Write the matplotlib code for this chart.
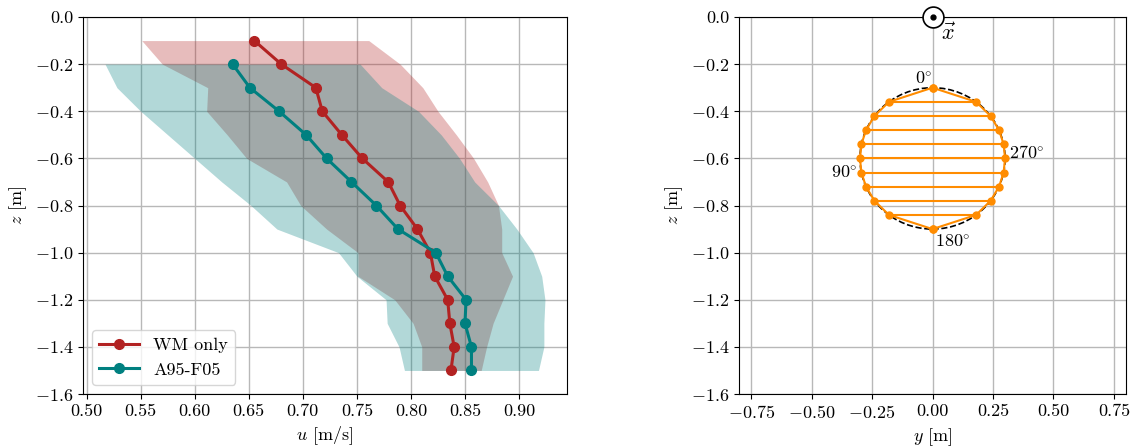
import matplotlib
matplotlib.use('Agg')
import matplotlib.pyplot as plt
from matplotlib.patches import Circle

plt.rcParams['font.family'] = 'serif'
plt.rcParams['font.serif'] = ['cmr10', 'DejaVu Serif']
plt.rcParams['mathtext.fontset'] = 'cm'
plt.rcParams['axes.formatter.use_mathtext'] = True
plt.rcParams['font.size'] = 13
plt.rcParams['axes.unicode_minus'] = True

# Perfiles de velocidad (WM only)
z_wm = [-0.1, -0.2, -0.3, -0.4, -0.5, -0.6, -0.7, -0.8, -0.9, -1.0, -1.1, -1.2, -1.3, -1.4, -1.5]
u_wm = [0.655, 0.680, 0.712, 0.718, 0.736, 0.755, 0.779, 0.790, 0.806, 0.818, 0.822, 0.834, 0.836, 0.840, 0.837]
u_wm_low = [0.551, 0.570, 0.612, 0.611, 0.630, 0.648, 0.685, 0.698, 0.722, 0.751, 0.751, 0.785, 0.802, 0.810, 0.810]
u_wm_high = [0.761, 0.790, 0.811, 0.825, 0.842, 0.858, 0.871, 0.881, 0.884, 0.884, 0.894, 0.885, 0.876, 0.870, 0.865]

# Perfiles de velocidad (A95-F05)
z_a95 = [-0.2, -0.3, -0.4, -0.5, -0.6, -0.7, -0.8, -0.9, -1.0, -1.1, -1.2, -1.3, -1.4, -1.5]
u_a95 = [0.635, 0.651, 0.678, 0.703, 0.722, 0.745, 0.768, 0.788, 0.823, 0.834, 0.851, 0.850, 0.856, 0.856]
u_a95_low = [0.517, 0.528, 0.550, 0.575, 0.600, 0.625, 0.652, 0.676, 0.733, 0.750, 0.777, 0.778, 0.789, 0.794]
u_a95_high = [0.753, 0.773, 0.807, 0.828, 0.845, 0.859, 0.881, 0.898, 0.913, 0.921, 0.924, 0.923, 0.923, 0.918]

# Puntos de medida en la seccion circular
z_sec = [-0.30, -0.36, -0.42, -0.48, -0.54, -0.60, -0.66, -0.72, -0.78, -0.84, -0.90]
y_half = [0.0, 0.18, 0.24, 0.275, 0.294, 0.30, 0.294, 0.275, 0.24, 0.18, 0.0]
centro = (0.0, -0.6)
radio = 0.3

red = '#b22222'
teal = '#008080'
orange = '#ff8c00'

fig = plt.figure(figsize=(11.33, 4.48), dpi=100)
ax1 = fig.add_axes([0.0733, 0.1205, 0.4271, 0.8415])
ax2 = fig.add_axes([0.6523, 0.1205, 0.3415, 0.8415])

# Grafica izquierda
ax1.fill_betweenx(z_wm, u_wm_low, u_wm_high, color=red, alpha=0.3, linewidth=0)
ax1.fill_betweenx(z_a95, u_a95_low, u_a95_high, color=teal, alpha=0.3, linewidth=0)
ax1.plot(u_wm, z_wm, color=red, marker='o', markersize=7, linewidth=2.2, label='WM only')
ax1.plot(u_a95, z_a95, color=teal, marker='o', markersize=7, linewidth=2.2, label='A95-F05')
ax1.set_ylim(-1.6, 0.0)
ax1.set_xticks([0.50, 0.55, 0.60, 0.65, 0.70, 0.75, 0.80, 0.85, 0.90])
ax1.set_yticks([0.0, -0.2, -0.4, -0.6, -0.8, -1.0, -1.2, -1.4, -1.6])
ax1.set_xticklabels(['0.50', '0.55', '0.60', '0.65', '0.70', '0.75', '0.80', '0.85', '0.90'])
ax1.set_yticklabels(['0.0', '$-$0.2', '$-$0.4', '$-$0.6', '$-$0.8', '$-$1.0', '$-$1.2', '$-$1.4', '$-$1.6'])
ax1.set_xlabel('$u$ [m/s]')
ax1.set_ylabel('$z$ [m]')
ax1.grid(True, color='#b8b8b8', linewidth=1)
ax1.set_axisbelow(True)
ax1.legend(loc='lower left', fontsize=13, handlelength=2.2)

# Grafica derecha
ax2.add_patch(Circle(centro, radio, fill=False, linestyle='--', color='black', linewidth=1.2, zorder=2))
y_left = [-v for v in y_half]
y_outline = y_half + y_left[::-1]
z_outline = z_sec + z_sec[::-1]
ax2.plot(y_outline, z_outline, color=orange, marker='o', markersize=5, linewidth=1.5, zorder=3)
for yl, yr, zz in zip(y_left[1:-1], y_half[1:-1], z_sec[1:-1]):
    ax2.plot([yl, yr], [zz, zz], color=orange, linewidth=1.5, zorder=3)
ax2.text(-0.038, -0.262, r'0$^{\circ}$', ha='center', va='center', fontsize=13)
ax2.text(-0.31, -0.662, r'90$^{\circ}$', ha='right', va='center', fontsize=13)
ax2.text(0.315, -0.575, r'270$^{\circ}$', ha='left', va='center', fontsize=13)
ax2.text(0.01, -0.955, r'180$^{\circ}$', ha='left', va='center', fontsize=13)
ax2.plot([0.0], [0.0], marker='o', markersize=15, markerfacecolor='white', markeredgecolor='black',
         markeredgewidth=1.2, clip_on=False, zorder=5)
ax2.plot([0.0], [0.0], marker='o', markersize=3.5, color='black', clip_on=False, zorder=6)
ax2.text(0.065, -0.07, r'$\vec{x}$', ha='center', va='center', fontsize=16)
ax2.set_xlim(-0.8, 0.8)
ax2.set_ylim(-1.6, 0.0)
ax2.set_xticks([-0.75, -0.50, -0.25, 0.0, 0.25, 0.50, 0.75])
ax2.set_xticklabels(['$-$0.75', '$-$0.50', '$-$0.25', '0.00', '0.25', '0.50', '0.75'])
ax2.set_yticks([0.0, -0.2, -0.4, -0.6, -0.8, -1.0, -1.2, -1.4, -1.6])
ax2.set_yticklabels(['0.0', '$-$0.2', '$-$0.4', '$-$0.6', '$-$0.8', '$-$1.0', '$-$1.2', '$-$1.4', '$-$1.6'])
ax2.set_xlabel('$y$ [m]')
ax2.set_ylabel('$z$ [m]')
ax2.grid(True, color='#b8b8b8', linewidth=1)
ax2.set_axisbelow(True)

fig.savefig('out.png', dpi=100)
